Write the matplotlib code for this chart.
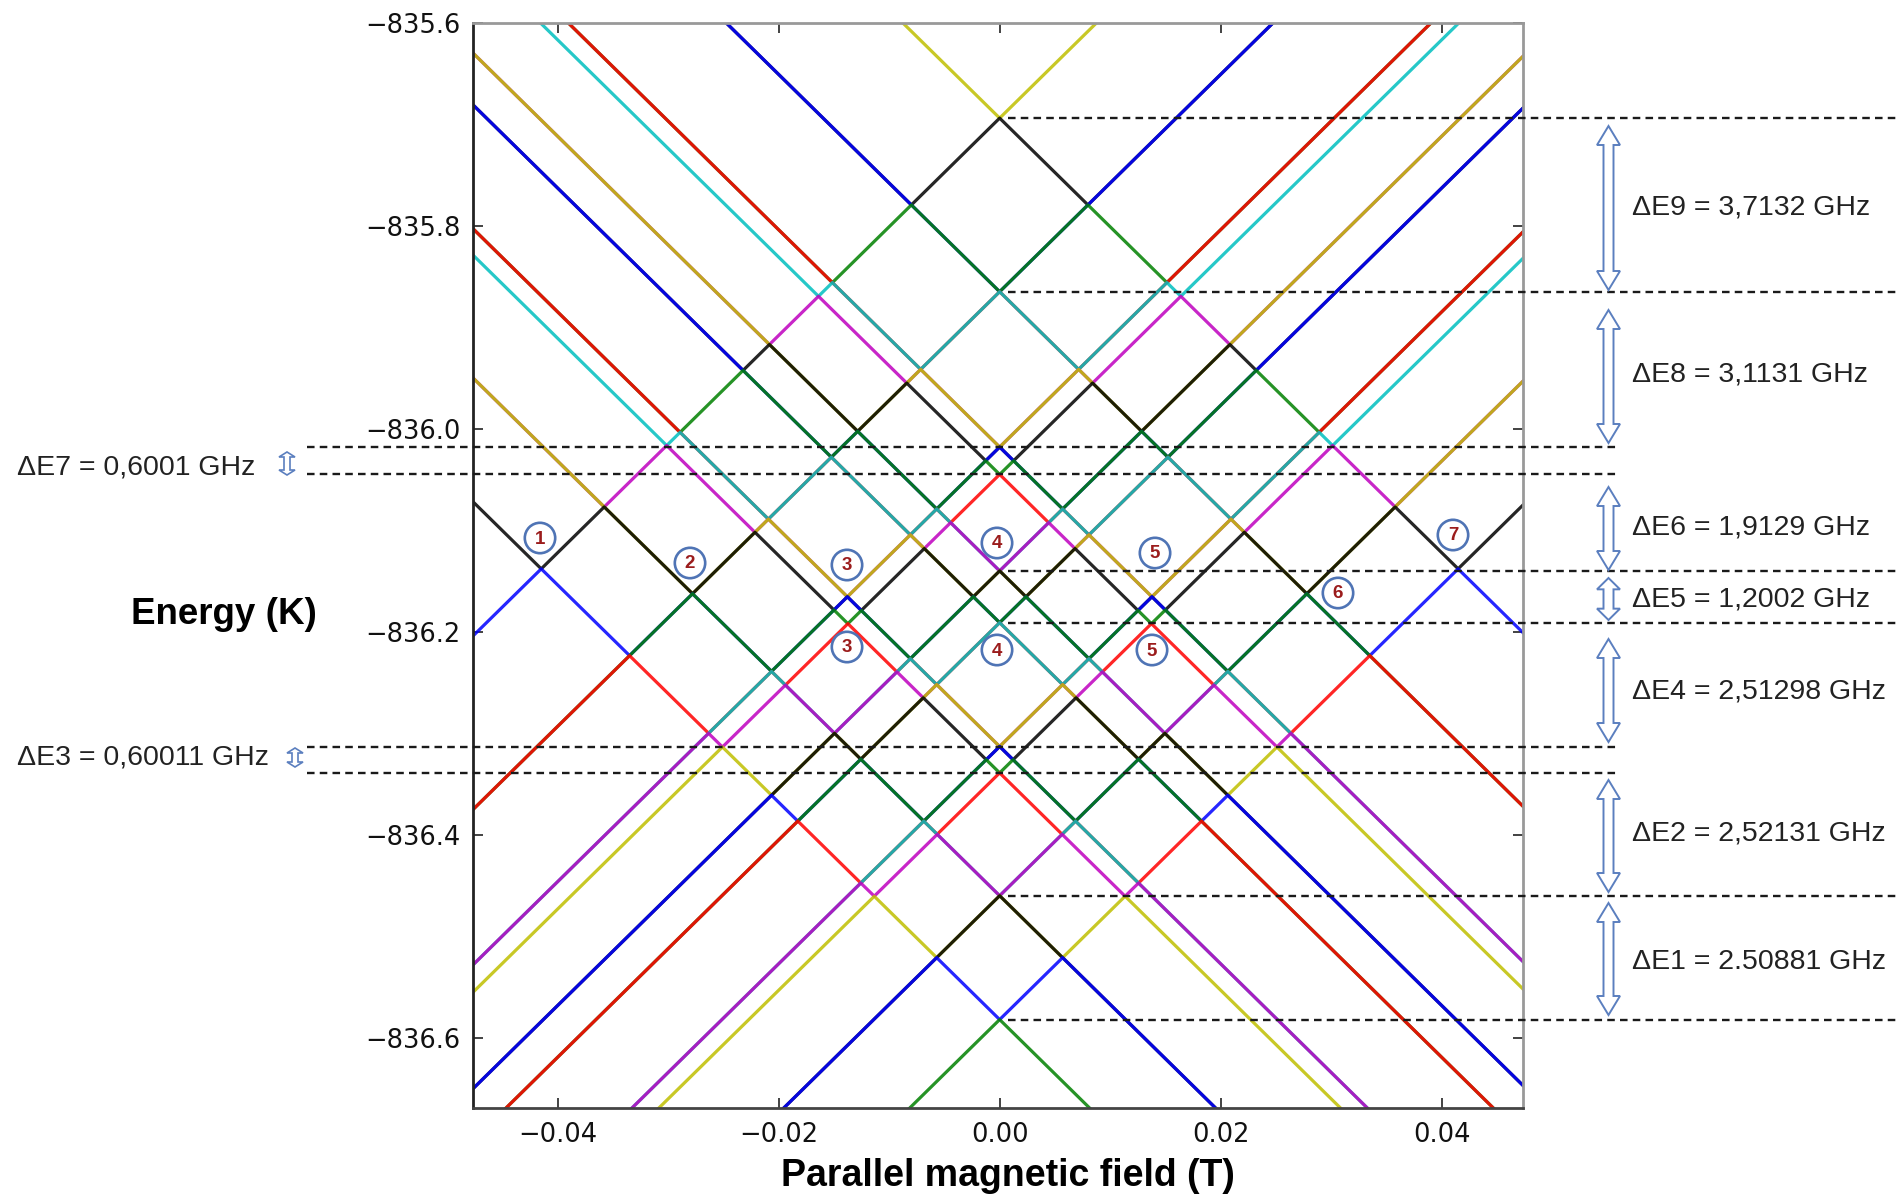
import numpy as np
import matplotlib
matplotlib.use("Agg")
import matplotlib.pyplot as plt
from matplotlib.patches import Polygon, Circle
from matplotlib.lines import Line2D
import matplotlib.transforms as mtransforms

# ---------------- data ----------------
# energies (K) of the level crossings at zero field, top to bottom
level_energy = [-835.694, -835.865, -836.018, -836.045, -836.140,
                -836.191, -836.313, -836.339, -836.460, -836.582]
# number of coincident lines of each slope through each crossing
level_multiplicity = [1, 2, 2, 1, 2, 2, 2, 1, 2, 1]
# Zeeman slope |dE/dB| in K/T
zeeman_slope = 10.7
# colour cycle of the sorted levels, starting with the highest level
line_colors = ['y', 'k', 'b', 'g', 'r', 'c', 'm']

xtick_values = [-0.04, -0.02, 0.00, 0.02, 0.04]
ytick_values = [-836.6, -836.4, -836.2, -836.0, -835.8, -835.6]

right_gap_labels = ['ΔE9 = 3,7132 GHz', 'ΔE8 = 3,1131 GHz', 'ΔE6 = 1,9129 GHz',
                    'ΔE5 = 1,2002 GHz', 'ΔE4 = 2,51298 GHz', 'ΔE2 = 2,52131 GHz',
                    'ΔE1 = 2.50881 GHz']
left_gap_labels = ['ΔE7 = 0,6001 GHz', 'ΔE3 = 0,60011 GHz']
crossing_numbers = ['1', '2', '3', '3', '4', '4', '5', '5', '6', '7']

# ---------------- layout (pixels of the 1899x1197 canvas) ----------------
W, H = 1899, 1197
fig = plt.figure(figsize=(W / 100, H / 100), dpi=100)
ax = fig.add_axes([472.7 / W, 1 - 1108.3 / H, (1523.3 - 472.7) / W, (1108.3 - 22.7) / H])

# ---------------- energy levels ----------------
E0 = np.repeat(level_energy, level_multiplicity)
intercepts = np.concatenate([E0, E0])
slopes = np.concatenate([np.full(E0.size, zeeman_slope), np.full(E0.size, -zeeman_slope)])
cross_B = ((E0[:, None] - E0[None, :]) / (2 * zeeman_slope)).ravel()
B = np.unique(np.concatenate([np.linspace(-0.05, 0.05, 2001), cross_B, -cross_B]))
B = B[(B >= -0.05) & (B <= 0.05)]
E = intercepts[None, :] + slopes[None, :] * B[:, None]
E_sorted = -np.sort(-E, axis=1)
for j in range(E_sorted.shape[1]):
    ax.plot(B, E_sorted[:, j], color=line_colors[j % len(line_colors)], lw=2.3, alpha=0.85,
            solid_capstyle='butt')

ax.set_xlim(-0.0477, 0.0474)
ax.set_ylim(-836.6694, -835.6)
ax.set_xticks(xtick_values)
ax.set_xticklabels([f"{v:.2f}".replace('-', '\u2212') for v in xtick_values])
ax.set_yticks(ytick_values)
ax.set_yticklabels([f"{v:.1f}".replace('-', '\u2212') for v in ytick_values])
ax.tick_params(direction='in', top=True, right=True, length=7, width=1.2,
               labelsize=18.5, pad=9, colors='#222222')
ax.tick_params(axis='x', pad=10)
for side, col in [('left', '#222222'), ('bottom', '#444444'), ('top', '#999999'), ('right', '#999999')]:
    ax.spines[side].set_color(col)
    ax.spines[side].set_linewidth(2)
for lab in ax.get_xticklabels() + ax.get_yticklabels():
    lab.set_color('#111111')

# ---------------- helpers in canvas pixels ----------------
pix = fig.dpi_scale_trans


def P(x, y):
    return (x / 100.0, (H - y) / 100.0)


def double_arrow(xc, ytop, ybot, half_shaft, half_head, head_len, lw=1.4):
    pts = [(xc, ytop), (xc + half_head, ytop + head_len), (xc + half_shaft, ytop + head_len),
           (xc + half_shaft, ybot - head_len), (xc + half_head, ybot - head_len), (xc, ybot),
           (xc - half_head, ybot - head_len), (xc - half_shaft, ybot - head_len),
           (xc - half_shaft, ytop + head_len), (xc - half_head, ytop + head_len)]
    fig.add_artist(Polygon([P(*p) for p in pts], closed=True, transform=pix,
                           fc='white', ec='#5b7fbf', lw=lw, zorder=5))


# dashed guide lines at the zero-field crossings (y in data, x in canvas)
blend = mtransforms.blended_transform_factory(pix, ax.transData)
long_right = [0, 1, 4, 5, 8, 9]
left_span = [2, 3, 6, 7]
for k in long_right:
    fig.add_artist(Line2D([1008 / 100, W / 100], [level_energy[k]] * 2, transform=blend,
                          color='#1a1a1a', lw=1.7, ls=(0, (3.2, 2.2)), zorder=4))
for k in left_span:
    fig.add_artist(Line2D([307 / 100, 1618 / 100], [level_energy[k]] * 2, transform=blend,
                          color='#1a1a1a', lw=1.7, ls=(0, (3.2, 2.2)), zorder=4))

# right-hand arrows and labels
arrow_spans = [(126, 290), (310, 443), (487, 570), (578, 620), (639, 742), (780, 892), (903, 1015)]
label_y = [208, 375, 527, 600, 692, 834, 962]
for (yt, yb), ly, txt in zip(arrow_spans, label_y, right_gap_labels):
    hl = min(19, 0.27 * (yb - yt))
    double_arrow(1608.5, yt, yb, 5, 11.5, hl)
    fig.text(*P(1631.7, ly), txt, transform=pix, ha='left', va='center',
             fontsize=20.5, family='Liberation Sans', color='#222222')

# left-hand small arrows and labels
left_spans = [(287, 452, 475), (295, 748, 767)]
left_label_y = [467, 758]
for (xc, yt, yb), ly, txt in zip(left_spans, left_label_y, left_gap_labels):
    double_arrow(xc, yt, yb, 3, 8, 5, lw=1.2)
    fig.text(*P(16.7, ly), txt, transform=pix, ha='left', va='center',
             fontsize=20.5, family='Liberation Sans', color='#222222')

# circled crossing numbers
circle_pos = [(540, 538), (690, 563), (847, 565), (847, 647), (997, 543),
              (997, 650), (1155, 553), (1152, 650), (1338, 593), (1453, 535)]
for (cx, cy), num in zip(circle_pos, crossing_numbers):
    fig.add_artist(Circle(P(cx, cy), 0.152, transform=pix, fc='white', ec='#4f74b5',
                          lw=1.9, zorder=6))
    fig.text(*P(cx, cy + 1), num, transform=pix, ha='center', va='center', zorder=7,
             fontsize=13.5, family='Liberation Sans', weight='bold', color='#9b1c1c')

# axis titles
fig.text(*P(1007.6, 1176), 'Parallel magnetic field (T)', transform=pix, ha='center',
         va='center', fontsize=27, family='Liberation Sans', weight='bold')
fig.text(*P(224, 614), 'Energy (K)', transform=pix, ha='center', va='center',
         fontsize=26.5, family='Liberation Sans', weight='bold')

fig.savefig('out.png', dpi=100, facecolor='white')
